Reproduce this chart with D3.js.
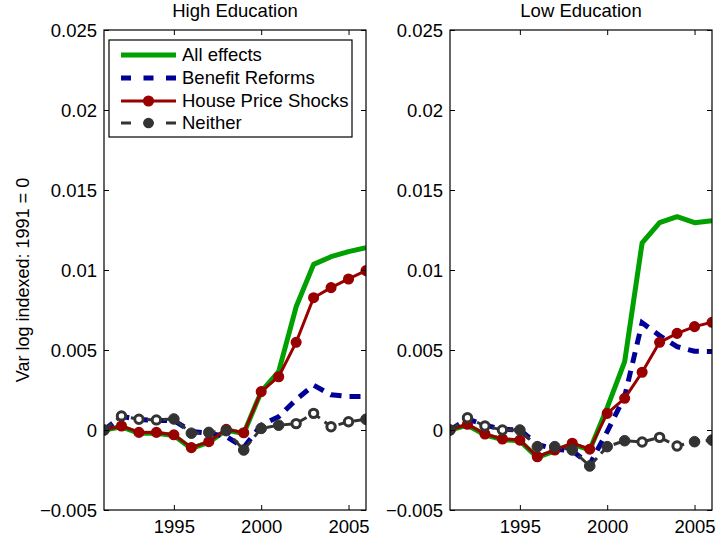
<!DOCTYPE html>
<html>
<head>
<meta charset="utf-8">
<script src="https://cdn.jsdelivr.net/npm/d3@7/dist/d3.min.js"></script>
<style>
  html, body { margin: 0; padding: 0; background: #fff; }
  svg text { font-family: "Liberation Sans", Arial, Helvetica, sans-serif; fill: #000; }
</style>
</head>
<body>
<svg id="chart" width="717" height="543"></svg>
<script>
// ---------- data ----------
const years = [1991,1992,1993,1994,1995,1996,1997,1998,1999,2000,2001,2002,2003,2004,2005,2006];
const panelTitles = ["High Education", "Low Education"];
const seriesNames = ["All effects", "Benefit Reforms", "House Price Shocks", "Neither"];
const yTickValues = [-0.005, 0, 0.005, 0.01, 0.015, 0.02, 0.025];
const yTickLabels = ["\u22120.005", "0", "0.005", "0.01", "0.015", "0.02", "0.025"];
const xTickValues = [1995, 2000, 2005];
const yLabel = "Var log indexed: 1991 = 0";

// High education
const highAll     = [0, 0.00020, -0.00020, -0.00020, -0.00035, -0.00115, -0.00078, 0.00000, -0.00022, 0.00240, 0.00365, 0.00770, 0.01035, 0.01083, 0.01115, 0.01140];
const highBenefit = [0, 0.00085, 0.00065, 0.00060, 0.00060, -0.00010, -0.00020, -0.00040, -0.00110, 0.00030, 0.00083, 0.00190, 0.00280, 0.00220, 0.00210, 0.00210];
const highHouse   = [0, 0.00025, -0.00015, -0.00015, -0.00030, -0.00110, -0.00073, 0.00004, -0.00017, 0.00240, 0.00333, 0.00548, 0.00827, 0.00890, 0.00944, 0.00996];
const highNeither = [0, 0.00088, 0.00067, 0.00063, 0.00069, -0.00020, -0.00015, -0.00004, -0.00125, 0.00010, 0.00030, 0.00040, 0.00104, 0.00020, 0.00052, 0.00067];

// Low education
const lowAll      = [0, 0.00030, -0.00030, -0.00060, -0.00068, -0.00172, -0.00130, -0.00088, -0.00125, 0.00140, 0.00427, 0.01170, 0.01296, 0.01333, 0.01296, 0.01308];
const lowBenefit  = [0, 0.00070, 0.00030, 0.00005, 0.00000, -0.00090, -0.00120, -0.00130, -0.00215, -0.00010, 0.00210, 0.00670, 0.00590, 0.00521, 0.00492, 0.00490];
const lowHouse    = [0, 0.00036, -0.00025, -0.00056, -0.00063, -0.00167, -0.00125, -0.00083, -0.00120, 0.00104, 0.00198, 0.00361, 0.00548, 0.00604, 0.00646, 0.00673];
const lowNeither  = [0, 0.00077, 0.00025, 0.00000, 0.00000, -0.00104, -0.00104, -0.00125, -0.00225, -0.00104, -0.00067, -0.00075, -0.00046, -0.00100, -0.00073, -0.00063];

// years where the "Neither" marker appears hollow in the original
const highHollowYears = [1992, 1993, 1994, 2002, 2003, 2004, 2005];
const lowHollowYears  = [1992, 1993, 1994, 2002, 2003, 2004];

// ---------- drawing ----------
const svg = d3.select("#chart");
const colors = { all: "#00a000", benefit: "#000099", house: "#990000", neither: "#333333" };

const plotW = 262, plotH = 480, plotTop = 30;
const panelLefts = [104, 450];

const x = d3.scaleLinear().domain([1991, 2006]).range([0, plotW]);
const y = d3.scaleLinear().domain([-0.005, 0.025]).range([plotH, 0]);

const panels = [
  { title: panelTitles[0], all: highAll, benefit: highBenefit, house: highHouse, neither: highNeither, hollow: highHollowYears },
  { title: panelTitles[1], all: lowAll, benefit: lowBenefit, house: lowHouse, neither: lowNeither, hollow: lowHollowYears }
];

const line = d3.line().x(d => x(d[0])).y(d => y(d[1]));
const FS = 18.5;

panels.forEach((p, i) => {
  const g = svg.append("g").attr("transform", `translate(${panelLefts[i]},${plotTop})`);

  const clipId = "clip" + i;
  g.append("clipPath").attr("id", clipId).append("rect")
    .attr("x", 0).attr("y", 0).attr("width", plotW).attr("height", plotH);

  const plot = g.append("g").attr("clip-path", `url(#${clipId})`);

  const zip = arr => years.map((yr, k) => [yr, arr[k]]);

  plot.append("path").datum(zip(p.all))
    .attr("d", line).attr("fill", "none").attr("stroke", colors.all)
    .attr("stroke-width", 5).attr("stroke-linejoin", "round");

  plot.append("path").datum(zip(p.benefit))
    .attr("d", line).attr("fill", "none").attr("stroke", colors.benefit)
    .attr("stroke-width", 5).attr("stroke-dasharray", "11,8");

  plot.append("path").datum(zip(p.house))
    .attr("d", line).attr("fill", "none").attr("stroke", colors.house)
    .attr("stroke-width", 3).attr("stroke-linejoin", "round");
  plot.selectAll(".hm").data(zip(p.house)).enter().append("circle")
    .attr("cx", d => x(d[0])).attr("cy", d => y(d[1])).attr("r", 4.8)
    .attr("fill", colors.house).attr("stroke", colors.house).attr("stroke-width", 1.5);

  plot.append("path").datum(zip(p.neither))
    .attr("d", line).attr("fill", "none").attr("stroke", colors.neither)
    .attr("stroke-width", 3).attr("stroke-dasharray", "10,6");
  plot.selectAll(".nm").data(zip(p.neither)).enter().append("circle")
    .attr("cx", d => x(d[0])).attr("cy", d => y(d[1]))
    .attr("r", d => p.hollow.includes(d[0]) ? 4.2 : 5.3)
    .attr("fill", d => p.hollow.includes(d[0]) ? "#fff" : colors.neither)
    .attr("stroke", colors.neither).attr("stroke-width", d => p.hollow.includes(d[0]) ? 3 : 1);

  const axB = d3.axisBottom(x).tickValues(xTickValues).tickFormat(d3.format("d")).tickSizeInner(-5).tickSizeOuter(0).tickPadding(12);
  const axT = d3.axisTop(x).tickValues(xTickValues).tickFormat("").tickSizeInner(-5).tickSizeOuter(0);
  const axL = d3.axisLeft(y).tickValues(yTickValues).tickFormat((d, k) => yTickLabels[k]).tickSizeInner(-5).tickSizeOuter(0).tickPadding(12);
  const axR = d3.axisRight(y).tickValues(yTickValues).tickFormat("").tickSizeInner(-5).tickSizeOuter(0);

  const gb = g.append("g").attr("transform", `translate(0,${plotH})`).call(axB);
  const gt = g.append("g").call(axT);
  const gl = g.append("g").call(axL);
  const gr = g.append("g").attr("transform", `translate(${plotW},0)`).call(axR);
  [gb, gt, gl, gr].forEach(a => {
    a.select(".domain").remove();
    a.selectAll("line").attr("stroke", "#000").attr("stroke-width", 1);
    a.selectAll("text").style("font-family", '"Liberation Sans", Arial, sans-serif').style("font-size", FS + "px").attr("fill", "#000");
  });
  gb.selectAll("text").attr("dy", "0.71em").attr("y", 10);
  gl.selectAll("text").attr("x", -7).attr("dy", "0.35em");

  g.append("rect").attr("x", 0).attr("y", 0).attr("width", plotW).attr("height", plotH)
    .attr("fill", "none").attr("stroke", "#000").attr("stroke-width", 1.2);

  g.append("text").attr("x", plotW / 2).attr("y", -13).attr("text-anchor", "middle")
    .style("font-size", FS + "px").text(p.title);

  if (i === 0) {
    const lg = g.append("g").attr("transform", "translate(5,10)");
    lg.append("rect").attr("x", 0).attr("y", 0).attr("width", 243).attr("height", 97)
      .attr("fill", "#fff").attr("stroke", "#000").attr("stroke-width", 1.2);
    const rowY = [15, 38, 61, 83];
    const lx1 = 12, lx2 = 67, tx = 73;
    lg.append("line").attr("x1", lx1).attr("x2", lx2).attr("y1", rowY[0]).attr("y2", rowY[0])
      .attr("stroke", colors.all).attr("stroke-width", 5);
    lg.append("line").attr("x1", lx1).attr("x2", lx2).attr("y1", rowY[1]).attr("y2", rowY[1])
      .attr("stroke", colors.benefit).attr("stroke-width", 5).attr("stroke-dasharray", "10,12.5");
    lg.append("line").attr("x1", lx1).attr("x2", lx2).attr("y1", rowY[2]).attr("y2", rowY[2])
      .attr("stroke", colors.house).attr("stroke-width", 3);
    lg.append("circle").attr("cx", (lx1 + lx2) / 2).attr("cy", rowY[2]).attr("r", 4.8)
      .attr("fill", colors.house).attr("stroke", colors.house).attr("stroke-width", 1.5);
    lg.append("line").attr("x1", lx1).attr("x2", lx2).attr("y1", rowY[3]).attr("y2", rowY[3])
      .attr("stroke", colors.neither).attr("stroke-width", 3).attr("stroke-dasharray", "10,12.5");
    lg.append("circle").attr("cx", (lx1 + lx2) / 2).attr("cy", rowY[3]).attr("r", 5.3)
      .attr("fill", colors.neither);
    seriesNames.forEach((nm, k) => {
      lg.append("text").attr("x", tx).attr("y", rowY[k]).attr("dy", "0.35em")
        .style("font-size", FS + "px").text(nm);
    });
  }
});

svg.append("text")
  .attr("transform", `translate(23,${plotTop + plotH / 2 + 10}) rotate(-90)`)
  .attr("text-anchor", "middle")
  .attr("dy", "0.35em")
  .style("font-size", "18px")
  .text(yLabel);
</script>
</body>
</html>
